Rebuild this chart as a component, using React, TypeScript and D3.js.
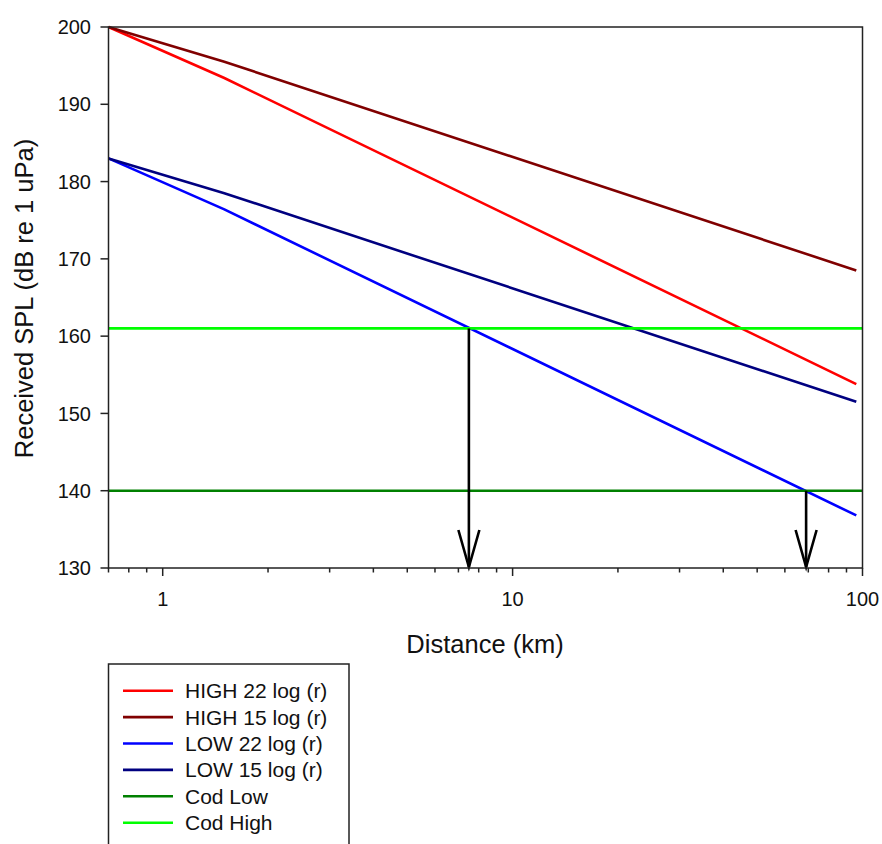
import React from "react";
import * as d3 from "d3";

// Distances (km) at which the propagation curves are sampled
const distances = [0.7, 1.5, 96];
// Received SPL (dB re 1 uPa) for each series
const high22 = [200, 193.4, 153.8];
const high15 = [200, 195.5, 168.5];
const low22 = [183, 176.4, 136.8];
const low15 = [183, 178.5, 151.5];
// Cod thresholds
const codLow = [140, 140];
const codHigh = [161, 161];
const codRange = [0.7, 100];
// Arrows: distance where the LOW 22 log curve meets each threshold
const arrowDistances = [7.5, 69];
const arrowFromLevels = [161, 140];

const yTicks = [130, 140, 150, 160, 170, 180, 190, 200];
const xMajorTicks = [1, 10, 100];
const xMinorTicks = [0.7, 0.8, 0.9, 2, 3, 4, 5, 6, 7, 8, 9, 20, 30, 40, 50, 60, 70, 80, 90];
const xTickLabels = ["1", "10", "100"];

const series = [
  { name: "HIGH 22 log (r)", values: high22, color: "#ff0000" },
  { name: "HIGH 15 log (r)", values: high15, color: "#800000" },
  { name: "LOW 22 log (r)", values: low22, color: "#0000ff" },
  { name: "LOW 15 log (r)", values: low15, color: "#000080" },
];
const codSeries = [
  { name: "Cod Low", values: codLow, color: "#008000" },
  { name: "Cod High", values: codHigh, color: "#00ff00" },
];

const FONT = "Arial, 'Liberation Sans', Helvetica, sans-serif";

export default function App() {
  const left = 108.5, right = 862.5, top = 27, bottom = 568;
  const x = d3.scaleLog().domain([0.7, 100]).range([left, right]);
  const y = d3.scaleLinear().domain([130, 200]).range([bottom, top]);
  const line = d3
    .line<[number, number]>()
    .x((d) => x(d[0]))
    .y((d) => y(d[1]));

  const legendItems = [...series, ...codSeries];

  return (
    <svg
      width={882}
      height={844}
      style={{ position: "absolute", left: 0, top: 0, background: "#fff" }}
      fontFamily={FONT}
    >
      <rect x={0} y={0} width={882} height={844} fill="#fff" />
      {/* curves */}
      {series.map((s) => (
        <path
          key={s.name}
          d={line(distances.map((d, i) => [d, s.values[i]]) as [number, number][]) || ""}
          fill="none"
          stroke={s.color}
          strokeWidth={2.6}
        />
      ))}
      {codSeries.map((s) => (
        <path
          key={s.name}
          d={line(codRange.map((d, i) => [d, s.values[i]]) as [number, number][]) || ""}
          fill="none"
          stroke={s.color}
          strokeWidth={2.6}
        />
      ))}
      {/* arrows */}
      {arrowDistances.map((d, i) => {
        const ax = x(d);
        const y0 = y(arrowFromLevels[i]);
        const y1 = y(130);
        return (
          <g key={i} stroke="#000" strokeWidth={2.6} fill="none">
            <line x1={ax} x2={ax} y1={y0} y2={y1 - 1} />
            <path d={`M${ax - 10.5},${y1 - 38} L${ax},${y1 - 1} L${ax + 10.5},${y1 - 38}`} />
          </g>
        );
      })}
      {/* frame */}
      <rect x={left} y={top} width={right - left} height={bottom - top} fill="none" stroke="#222" strokeWidth={1.5} />
      {/* y axis */}
      {yTicks.map((t) => (
        <g key={t}>
          <line x1={left - 8} x2={left} y1={y(t)} y2={y(t)} stroke="#222" strokeWidth={1.5} />
          <text x={91} y={y(t)} dy="0.36em" textAnchor="end" fontSize={20} fill="#111">
            {t}
          </text>
        </g>
      ))}
      {/* x axis */}
      {xMinorTicks.map((t) => (
        <line key={t} x1={x(t)} x2={x(t)} y1={bottom} y2={bottom + 4.5} stroke="#222" strokeWidth={1.5} />
      ))}
      {xMajorTicks.map((t, i) => (
        <g key={t}>
          <line x1={x(t)} x2={x(t)} y1={bottom} y2={bottom + 8} stroke="#222" strokeWidth={1.5} />
          <text x={x(t)} y={606} textAnchor="middle" fontSize={20} fill="#111">
            {xTickLabels[i]}
          </text>
        </g>
      ))}
      {/* axis titles */}
      <text x={485} y={653} textAnchor="middle" fontSize={25.5} fill="#111">
        Distance (km)
      </text>
      <text
        transform={`translate(33,${(top + bottom) / 2 + 1}) rotate(-90)`}
        textAnchor="middle"
        fontSize={25.5}
        fill="#111"
      >
        Received SPL (dB re 1 uPa)
      </text>
      {/* legend */}
      <rect x={108.5} y={664} width={240.5} height={200} fill="#fff" stroke="#222" strokeWidth={1.5} />
      {legendItems.map((s, i) => {
        const ly = 690.7 + i * 26.4;
        return (
          <g key={s.name}>
            <line x1={123} x2={173} y1={ly} y2={ly} stroke={s.color} strokeWidth={2.6} />
            <text x={185} y={ly + 7.5} fontSize={21} fill="#111">
              {s.name}
            </text>
          </g>
        );
      })}
    </svg>
  );
}
